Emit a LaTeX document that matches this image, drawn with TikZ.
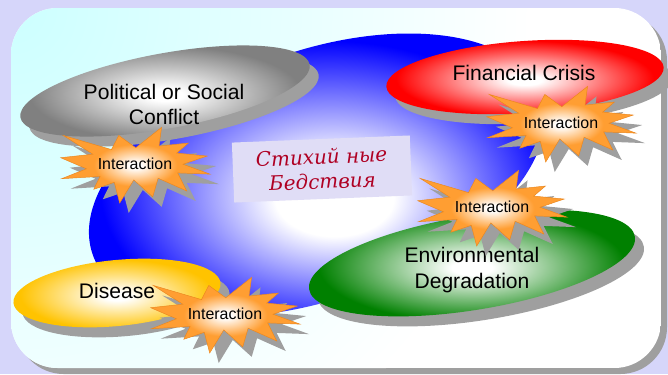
\documentclass[tikz,border=0pt]{standalone}
\usepackage{fontspec}
\setmainfont{Liberation Sans}
\newfontfamily\cyrfont{DejaVu Serif}
\usetikzlibrary{shapes,shadows}
\definecolor{lavender}{RGB}{214,214,250}
\definecolor{boxfill}{RGB}{224,221,246}
\definecolor{title}{RGB}{175,0,35}
\definecolor{burst}{RGB}{255,158,50}
\definecolor{burstline}{RGB}{235,135,30}
\definecolor{sun}{RGB}{255,195,0}
\definecolor{leaf}{RGB}{0,128,0}
\colorlet{glowin}{white}
\colorlet{glowout}{gray}
\pgfdeclareradialshading[glowin,glowout]{glow}{\pgfpoint{0bp}{-2bp}}{color(0bp)=(glowin); color(3bp)=(glowin); color(23bp)=(glowout); color(50bp)=(glowout)}
\pgfdeclareradialshading{core}{\pgfpoint{2bp}{-4bp}}{color(0bp)=(white); color(6bp)=(white); color(23bp)=(blue); color(50bp)=(blue)}
\pgfdeclareradialshading{flare}{\pgfpointorigin}{color(0bp)=(white); color(2bp)=(white); color(14bp)=(burst); color(50bp)=(burst)}
\def\burstpath{(50.5,27.3) -- (39.2,11.1) -- (34.3,29.7) -- (2.2,11.1) -- (21.9,35.8) -- (0.5,40.4) -- (17.7,55) -- (1.1,68) -- (26.7,65) -- (22.5,82) -- (36.2,72.8) -- (39.8,100) -- (49.2,69.6) -- (61.8,91.9) -- (65.4,67.4) -- (84.5,84.2) -- (78.4,60.4) -- (100,62) -- (82,49) -- (98.1,38.2) -- (77.8,34.3) -- (85.6,21.1) -- (66,25.1) -- (67.7,0.5) -- cycle}

\begin{document}
\begin{tikzpicture}[x=0.3mm, y=0.3mm, tint/.code={\colorlet{glowout}{#1}}]
\tikzstyle{every node}+=[inner sep=0pt]
\tikzstyle{blob}=[ellipse, shade, shading=glow, drop shadow={shadow xshift=0.27cm, shadow yshift=-0.3cm, fill=gray!75, draw=none, opacity=1}]
\tikzstyle{word}=[align=center, font=\fontsize{18}{21.5}\selectfont]
\useasboundingbox (0,0) rectangle (668,-374);
\fill [lavender] (0,0) rectangle (668,-374);
\fill [gray!75, rounded corners=1.4cm] (17,-14) rectangle (667,-374);
\begin{scope}
\clip [rounded corners=1.4cm] (11,-8) rectangle (661,-368);
\fill [white] (11,-8) rectangle (661,-368);
\shade [inner color=cyan!20, outer color=white] (11,-8) circle (520);
\end{scope}
\node [ellipse, shade, shading=core, rotate=19.6, minimum width=14.28cm, minimum height=7.44cm] (core) at (317,-175) {};
\node [fill=boxfill, rotate=2.3, minimum width=5.34cm, minimum height=1.8cm, align=center, text=title, font=\cyrfont\itshape\fontsize{17}{21}\selectfont] (core-text) at (322,-169) {Стихий ные\\Бедствия};
\node [blob, tint=gray, rotate=10.4, minimum width=8.82cm, minimum height=2.26cm] (conflict) at (165,-91) {};
\node [word] (conflict-text) at (164,-104.5) {Political or Social\\Conflict};
\node [blob, tint=red, rotate=4, minimum width=8.34cm, minimum height=2.16cm] (crisis) at (525,-77) {};
\node [word] (crisis-text) at (524,-73) {Financial Crisis};
\node [blob, tint=leaf, rotate=9.2, minimum width=9.9cm, minimum height=2.82cm] (environment) at (472,-263) {};
\node [word] (environment-text) at (472,-270) {Environmental\\Degradation};
\node [blob, tint=sun, rotate=5.5, minimum width=6.24cm, minimum height=1.98cm] (disease) at (117,-293) {};
\node [word] (disease-text) at (117,-291) {Disease};
\foreach \i/\x/\y in {1/60/127, 2/486/86, 3/417/170, 4/150/277} {
  \begin{scope}[shift={(\x,-\y)}, xscale=1.5, yscale=-0.76]
    \shade [shading=flare, draw=burstline, line width=0.4pt, drop shadow={shadow xshift=0.27cm, shadow yshift=-0.3cm, fill=gray!75, draw=none, opacity=1}] \burstpath;
  \end{scope}
  \node [font=\fontsize{13.6}{16}\selectfont] (interaction\i) at (\x+75,-\y-37) {Interaction};
}
\end{tikzpicture}
\end{document}
